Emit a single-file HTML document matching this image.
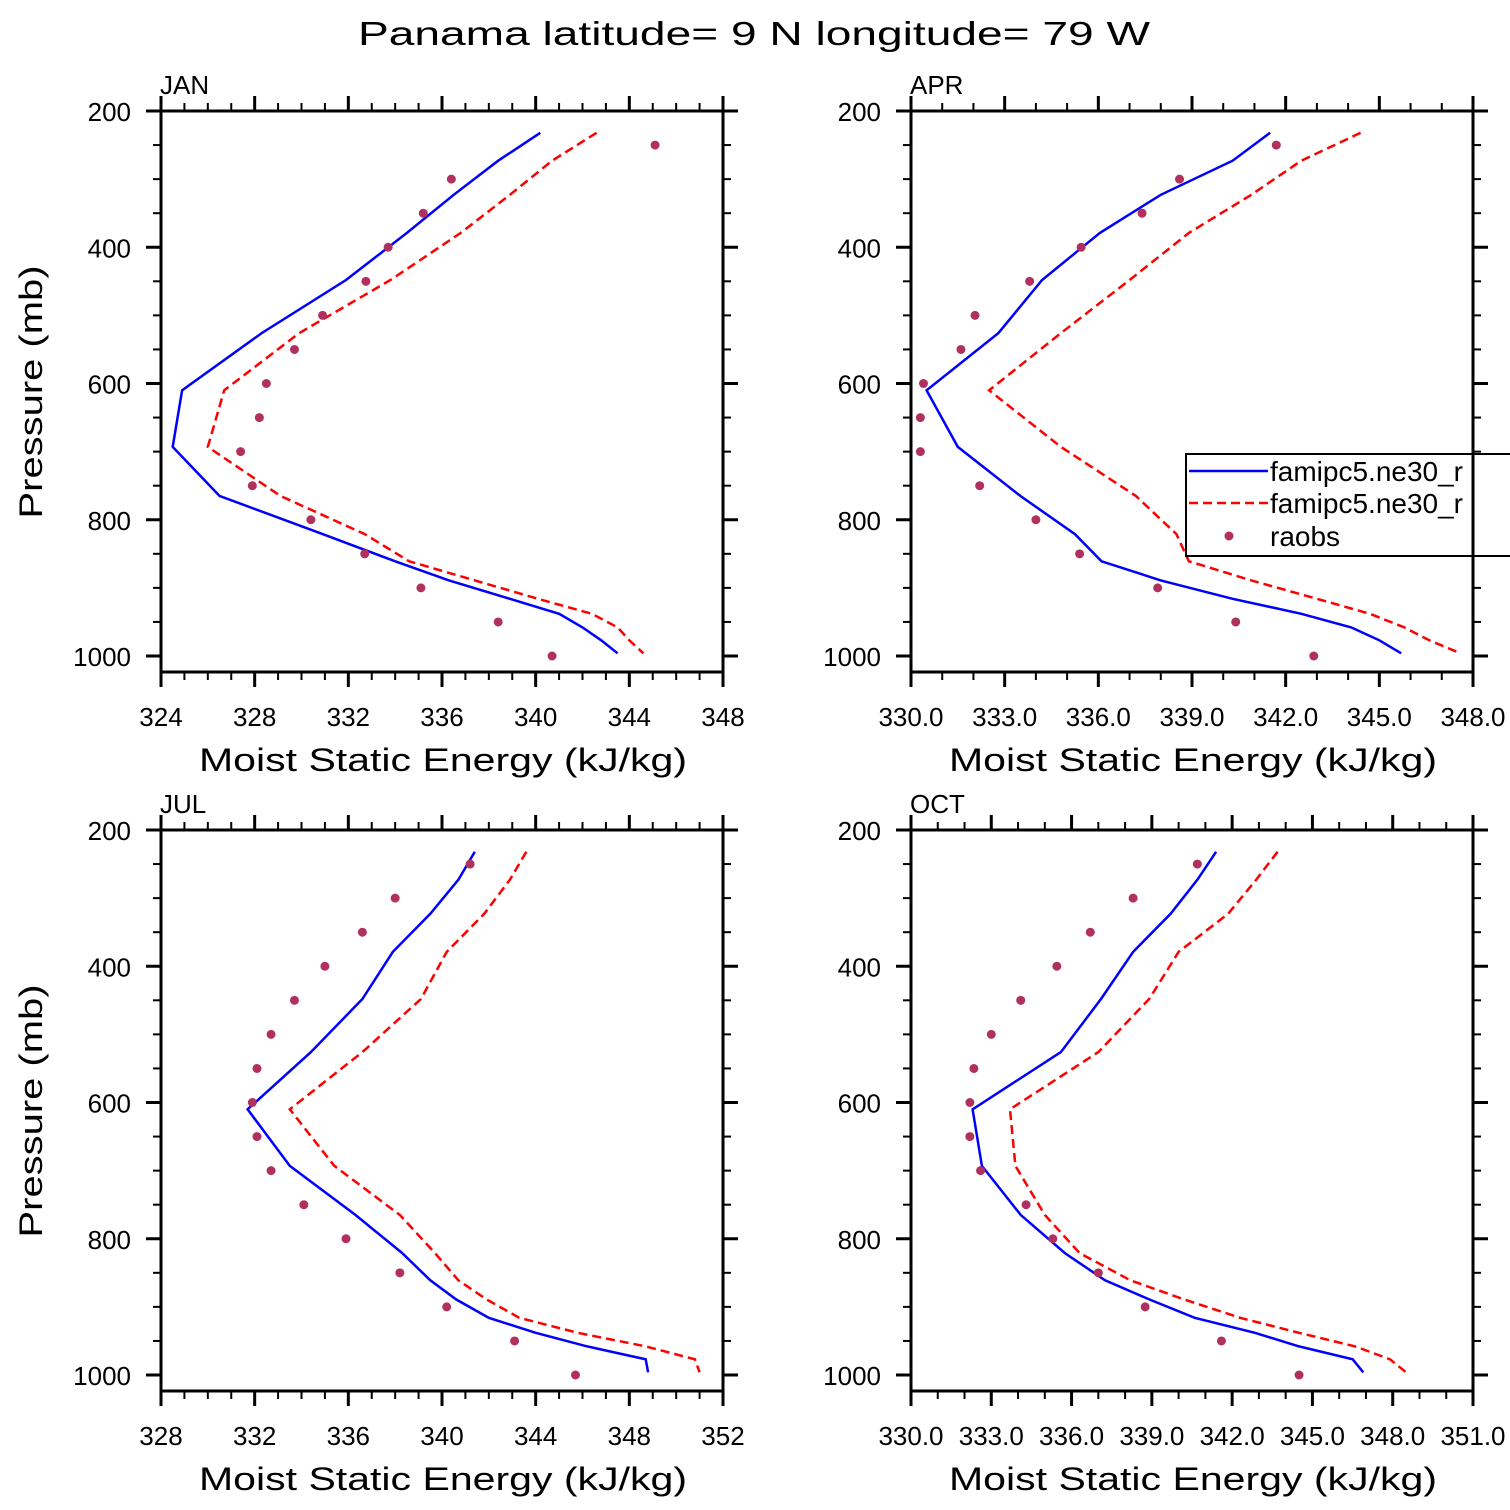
<!DOCTYPE html>
<html><head><meta charset="utf-8"><style>
html,body{margin:0;padding:0;background:#fff;}
svg{display:block;font-family:"Liberation Sans",sans-serif;}
</style></head><body>
<svg id="c" width="1510" height="1510" viewBox="0 0 1510 1510">
<text x="754" y="45" font-size="33" text-anchor="middle" textLength="792" lengthAdjust="spacingAndGlyphs">Panama  latitude= 9 N longitude= 79 W</text>
</svg>
<script>
const levels = [232, 273, 323, 379, 448, 526, 610, 693, 765, 821, 861, 889, 916, 938, 958, 977, 996];
const obsLevels = [250,300,350,400,450,500,550,600,650,700,750,800,850,900,950,1000];
const janBlue = [340.2,338.4,336.5,334.5,331.9,328.3,324.9,324.5,326.5,330.9,334.0,336.3,338.9,341.0,342.0,342.8,343.5];
const janRed = [342.6,340.7,338.9,336.8,333.8,329.9,326.7,326.0,329.1,332.7,334.6,337.4,340.1,342.4,343.5,344.0,344.6];
const janObs = [345.1,336.4,335.2,333.7,332.75,330.9,329.7,328.5,328.2,327.4,327.9,330.4,332.7,335.1,338.4,340.7];
const aprBlue = [341.5,340.3,338.0,336.05,334.2,332.8,330.5,331.5,333.5,335.25,336.1,338.0,340.3,342.5,344.1,345.0,345.7];
const aprRed = [344.4,342.5,340.9,338.9,337.0,334.8,332.5,334.8,337.2,338.5,338.9,340.9,343.0,344.7,345.8,346.6,347.6];
const aprObs = [341.7,338.6,337.4,335.45,333.8,332.05,331.6,330.4,330.3,330.3,332.2,334.0,335.4,337.9,340.4,342.9];
const julBlue = [341.4,340.7,339.5,337.9,336.6,334.4,331.7,333.5,336.3,338.3,339.5,340.6,342.0,344.0,346.2,348.7,348.8];
const julRed = [343.6,342.9,341.8,340.2,339.1,336.6,333.5,335.4,338.2,339.7,340.7,341.9,343.3,345.8,348.7,350.8,351.0];
const julObs = [341.2,338.0,336.6,335.0,333.7,332.7,332.1,331.9,332.1,332.7,334.1,335.9,338.2,340.2,343.1,345.7];
const octBlue = [341.4,340.7,339.7,338.3,337.1,335.6,332.3,332.65,334.1,335.75,337.25,338.9,340.6,342.85,344.5,346.5,346.9];
const octRed = [343.7,342.9,341.85,340.0,338.9,337.0,333.7,333.9,335.0,336.3,338.2,340.2,342.3,344.5,346.6,347.9,348.5];
const octObs = [340.7,338.3,336.7,335.45,334.1,333.0,332.35,332.2,332.2,332.6,334.3,335.3,337.0,338.75,341.6,344.5];
const janTicks = [324,328,332,336,340,344,348];
const aprTicks = [330,333,336,339,342,345,348];
const julTicks = [328,332,336,340,344,348,352];
const octTicks = [330,333,336,339,342,345,348,351];
const pTicks = [200,400,600,800,1000];

const NS='http://www.w3.org/2000/svg';
const svg=document.getElementById('c');
function mk(tag,attrs,parent){const e=document.createElementNS(NS,tag);for(const k in attrs)e.setAttribute(k,attrs[k]);(parent||svg).appendChild(e);return e;}

function panel(name,x0,y0,xmin,xmax,xt,minorStep,dec,blue,red,obs){
  const W=562,H=561,PMIN=200,PMAX=200+H/0.68125;
  const g=mk('g',{});
  
  
  const sx=v=>x0+(v-xmin)/(xmax-xmin)*W;
  const sy=p=>y0+(p-PMIN)*0.68125;
  for(let v=xmin;v<=xmax+1e-6;v+=minorStep){
    const X=sx(v);
    mk('line',{x1:X,x2:X,y1:y0,y2:y0-8,stroke:'#000','stroke-width':2},g);
    mk('line',{x1:X,x2:X,y1:y0+H,y2:y0+H+8,stroke:'#000','stroke-width':2},g);
  }
  xt.forEach(v=>{
    const X=sx(v);
    mk('line',{x1:X,x2:X,y1:y0,y2:y0-15,stroke:'#000','stroke-width':3},g);
    mk('line',{x1:X,x2:X,y1:y0+H,y2:y0+H+15,stroke:'#000','stroke-width':3},g);
    const t=mk('text',{x:X,y:y0+H+54,'font-size':26,'text-anchor':'middle'},g);
    t.textContent=dec?v.toFixed(1):String(v);
    
    
  });
  for(let p=250;p<PMAX;p+=50){
    const Y=sy(p);
    mk('line',{x1:x0,x2:x0-8,y1:Y,y2:Y,stroke:'#000','stroke-width':2},g);
    mk('line',{x1:x0+W,x2:x0+W+8,y1:Y,y2:Y,stroke:'#000','stroke-width':2},g);
  }
  pTicks.forEach(p=>{
    const Y=sy(p);
    mk('line',{x1:x0,x2:x0-15,y1:Y,y2:Y,stroke:'#000','stroke-width':3},g);
    mk('line',{x1:x0+W,x2:x0+W+15,y1:Y,y2:Y,stroke:'#000','stroke-width':3},g);
    const t=mk('text',{x:x0-30,y:Y+10,'font-size':26,'text-anchor':'end'},g);
    t.textContent=String(p);
    
    
  });
  const pts=arr=>arr.map((v,i)=>sx(v).toFixed(1)+','+sy(levels[i]).toFixed(1)).join(' ');
  const lb=mk('polyline',{points:pts(blue),fill:'none',stroke:'#0000ff','stroke-width':2.5},g);
  
  
  const lr=mk('polyline',{points:pts(red),fill:'none',stroke:'#ff0000','stroke-width':2.5,'stroke-dasharray':'9,5'},g);
  
  
  obs.forEach((v,i)=>{
    const c=mk('circle',{cx:sx(v),cy:sy(obsLevels[i]),r:4.5,fill:'#b03060'},g);
    
    
  });
  mk('rect',{x:x0,y:y0,width:W,height:H,fill:'none',stroke:'#000','stroke-width':3},g);
  const tl=mk('text',{x:x0-1,y:y0-17,'font-size':26},g);
  tl.textContent=name.toUpperCase();
  
  
  const xl=mk('text',{x:x0+282,y:y0+H+99,'font-size':32,'text-anchor':'middle',textLength:488,lengthAdjust:'spacingAndGlyphs'},g);
  xl.textContent='Moist Static Energy (kJ/kg)';
  
  
  if(x0<500){
    const yl=mk('text',{x:0,y:0,'font-size':32,'text-anchor':'middle',textLength:253,lengthAdjust:'spacingAndGlyphs',transform:'translate(42,'+(y0+281)+') rotate(-90)'},g);
    yl.textContent='Pressure (mb)';
    
    
  }
  return g;
}
panel('jan',161,111,324,348,janTicks,1,false,janBlue,janRed,janObs);
panel('apr',911,111,330,348,aprTicks,1,true,aprBlue,aprRed,aprObs);
panel('jul',161,830,328,352,julTicks,1,false,julBlue,julRed,julObs);
panel('oct',911,830,330,351,octTicks,1,true,octBlue,octRed,octObs);

const lg=mk('g',{});


mk('rect',{x:1186,y:454,width:340,height:102,fill:'#fff',stroke:'#000','stroke-width':2},lg);
mk('line',{x1:1189,x2:1268,y1:471,y2:471,stroke:'#0000ff','stroke-width':2.5},lg);
mk('line',{x1:1189,x2:1268,y1:503,y2:503,stroke:'#ff0000','stroke-width':2.5,'stroke-dasharray':'9,5'},lg);
mk('circle',{cx:1229,cy:536,r:4.5,fill:'#b03060'},lg);
[['famipc5.ne30_r',481],['famipc5.ne30_r',513],['raobs',546]].forEach(([s,y])=>{
  const t=mk('text',{x:1270,y:y,'font-size':28},lg);
  t.textContent=s;
  
  
});
mk('line',{x1:1473,x2:1473,y1:454,y2:556,stroke:'#000','stroke-width':3},lg);
</script>
</body></html>
